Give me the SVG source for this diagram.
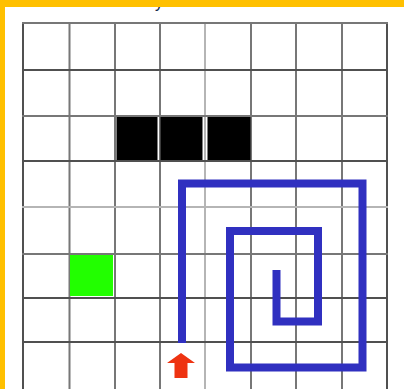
<svg xmlns="http://www.w3.org/2000/svg" width="404" height="389" viewBox="0 0 404 389">
<style>
.g{stroke:#777;stroke-width:2;fill:none}
.gd{stroke:#505050;stroke-width:2;fill:none}
.gl{stroke:#b5b5b5;stroke-width:2;fill:none}
.blk{fill:#000}
.path{fill:none;stroke:#3030C0;stroke-width:8;stroke-linejoin:miter;stroke-linecap:butt}
</style>
<rect width="404" height="389" fill="#fff"/>
<text x="155" y="8" font-family="Liberation Sans, Arial, sans-serif" font-size="16" fill="#1a2a4a">y</text>
<g id="grid">
<line class="gd" x1="23" y1="22" x2="23" y2="389"/>
<line class="g" x1="69.5" y1="22" x2="69.5" y2="389"/>
<line class="g" x1="115" y1="22" x2="115" y2="389"/>
<line class="g" x1="160" y1="22" x2="160" y2="389"/>
<line class="gl" x1="205" y1="22" x2="205" y2="389"/>
<line class="g" x1="251" y1="22" x2="251" y2="389"/>
<line class="g" x1="296" y1="22" x2="296" y2="389"/>
<line class="g" x1="342" y1="22" x2="342" y2="389"/>
<line class="gd" x1="387" y1="22" x2="387" y2="389"/>
<line class="g" x1="22" y1="23" x2="388" y2="23"/>
<line class="gd" x1="22" y1="70" x2="388" y2="70"/>
<line class="g" x1="22" y1="116" x2="388" y2="116"/>
<line class="gd" x1="22" y1="161" x2="388" y2="161"/>
<line class="gl" x1="22" y1="207" x2="388" y2="207"/>
<line class="g" x1="22" y1="254" x2="388" y2="254"/>
<line class="gd" x1="22" y1="298" x2="388" y2="298"/>
<line class="gd" x1="22" y1="342" x2="388" y2="342"/>
</g>
<g id="obstacles">
<rect class="blk" x="116.5" y="117" width="41" height="43"/>
<rect class="blk" x="160.5" y="117" width="42" height="43"/>
<rect class="blk" x="207.5" y="117" width="43" height="43"/>
</g>
<g id="goal">
<rect x="70" y="255" width="43" height="41" fill="#22FF00"/>
</g>
<g id="connectors">
<polyline class="path" points="182,343 182,183.5 362.5,183.5 362.5,367.5 230,367.5 230,231 318,231 318,321.5 276.5,321.5 276.5,270"/>
</g>
<g id="robot">
<polygon points="181,353 195,363 187.5,363 187.5,378 174.5,378 174.5,363 167,363" fill="#EE3311"/>
</g>
<rect x="0" y="0" width="404" height="7" fill="#FFC000"/>
<rect x="0" y="0" width="5" height="389" fill="#FFC000"/>
</svg>
